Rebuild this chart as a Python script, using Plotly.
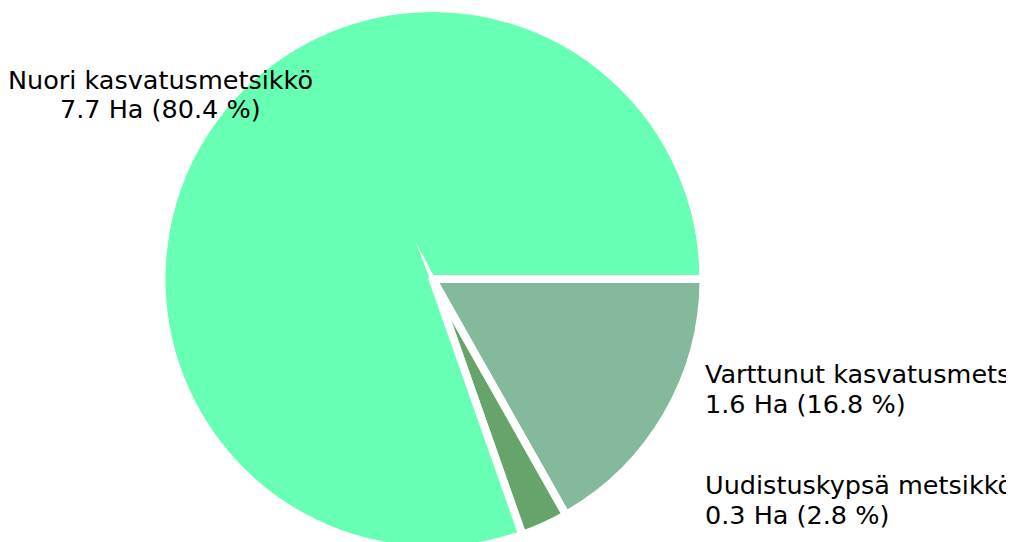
import math
import plotly.graph_objects as go

# metsikkökuviot, pinta-ala hehtaareina (järjestys myötäpäivään klo 3:sta)
kuviot = ["Varttunut kasvatusmetsikkö", "Uudistuskypsä metsikkö", "Nuori kasvatusmetsikkö"]
hehtaarit = [1.61, 0.27, 7.70]
osuudet = [16.8, 2.8, 80.4]
varit = ["#85B99C", "#66A46C", "#66FFB3"]

W, H = 1014, 542
FONT = "DejaVu Sans"
SIZE = 25.5
OFF = 8  # selaimen body-marginaali
DOM_X = [0, 849 / W]

fig = go.Figure(go.Pie(
    labels=kuviot,
    values=hehtaarit,
    sort=False,
    direction="clockwise",
    rotation=90,
    textinfo="none",
    hoverinfo="label+value+percent",
    marker=dict(colors=varit, line=dict(color="white", width=8)),
    domain=dict(x=DOM_X, y=[0, 1]),
    showlegend=False,
))

# tekstien paikat (ruudun pikseleinä: x, 1. rivin ja 2. rivin perusviiva)
paikat = {
    "Nuori kasvatusmetsikkö": (160.5, 87.5, 117.5, "center"),
    "Varttunut kasvatusmetsikkö": (703, 381.7, 411.7, "left"),
    "Uudistuskypsä metsikkö": (703, 493.3, 523.3, "left"),
}
for nimi, ha, pros in zip(kuviot, hehtaarit, osuudet):
    x, b1, b2, anchor = paikat[nimi]
    rivit = [nimi, f"{ha:.1f} Ha ({pros:.1f} %)"]
    for rivi, base in zip(rivit, (b1, b2)):
        fig.add_annotation(
            text=rivi,
            xref="paper", yref="paper",
            x=(x - OFF) / W, y=1 - (base - OFF - 8) / H,
            xanchor=anchor, yanchor="middle",
            showarrow=False, font=dict(family=FONT, size=SIZE, color="black"),
        )

# reunaviivan kulmasta jäävä valkoinen "piikki" isoimman sektorin kärjessä
cx = (DOM_X[0] + DOM_X[1]) / 2 * W
cy = H / 2
kulma = math.radians(-360 * sum(hehtaarit[:2]) / sum(hehtaarit) + 180 + 5)
ux, uy = math.cos(kulma), -math.sin(kulma)
tip = (cx + 41 * ux, cy + 41 * uy)
b1 = (cx - 2.5 * uy, cy + 2.5 * ux)
b2 = (cx + 2.5 * uy, cy - 2.5 * ux)


def paper(p):
    return f"{p[0] / W:.5f},{1 - p[1] / H:.5f}"


fig.add_shape(
    type="path", xref="paper", yref="paper",
    path=f"M {paper(tip)} L {paper(b1)} L {paper(b2)} Z",
    fillcolor="white", line=dict(width=0), layer="above",
)

fig.update_layout(
    width=W, height=H,
    margin=dict(l=0, r=0, t=0, b=0),
    paper_bgcolor="white",
    plot_bgcolor="white",
)
fig.write_html("out.html")
